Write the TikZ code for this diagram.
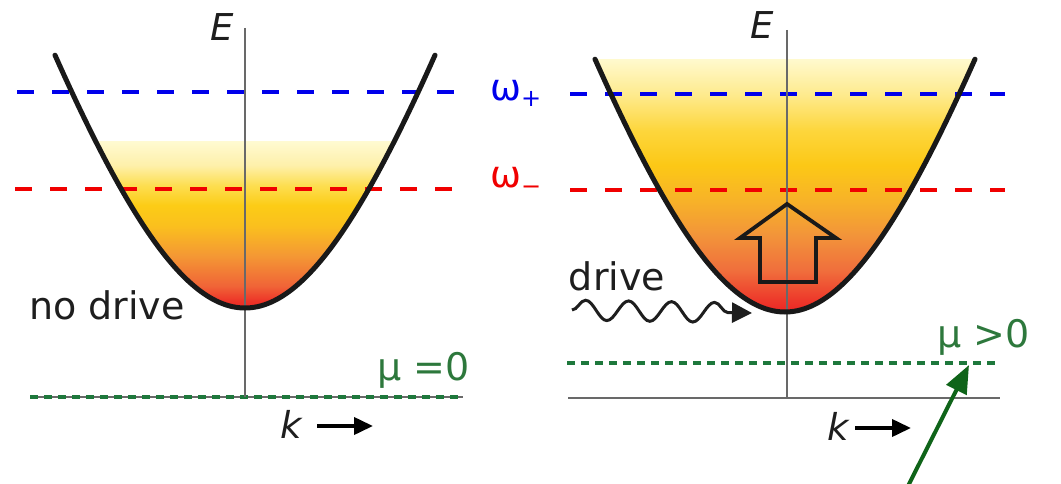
\documentclass[tikz,border=0pt]{standalone}
\usepackage{fontspec}
\setmainfont{DejaVu Sans}[ItalicFont={DejaVu Sans Oblique}]
\usetikzlibrary{arrows.meta,decorations.pathmorphing}
\definecolor{lineblue}{RGB}{0,0,235}
\definecolor{linered}{RGB}{240,0,0}
\definecolor{dotgreen}{RGB}{30,120,60}
\definecolor{textgreen}{RGB}{45,120,60}
\definecolor{arrowgreen}{RGB}{15,100,25}
\definecolor{axisgray}{RGB}{105,105,105}
\definecolor{txtdark}{RGB}{30,30,30}
% left gradient stops
\definecolor{lrA}{RGB}{236,36,36}
\definecolor{lrB}{RGB}{237,52,40}
\definecolor{lrC}{RGB}{240,100,55}
\definecolor{lrD}{RGB}{244,152,52}
\definecolor{lrE}{RGB}{250,192,30}
\definecolor{lrF}{RGB}{252,204,22}
\definecolor{lrG}{RGB}{253,222,80}
\definecolor{lrH}{RGB}{254,240,170}
\definecolor{lrI}{RGB}{255,250,208}
% right gradient stops
\definecolor{rrA}{RGB}{236,36,36}
\definecolor{rrB}{RGB}{237,55,42}
\definecolor{rrC}{RGB}{240,110,60}
\definecolor{rrD}{RGB}{242,148,58}
\definecolor{rrE}{RGB}{247,178,40}
\definecolor{rrF}{RGB}{252,200,22}
\definecolor{rrG}{RGB}{253,214,60}
\definecolor{rrH}{RGB}{254,234,140}
\definecolor{rrI}{RGB}{255,250,208}
\pgfdeclareverticalshading{leftgrad}{100bp}{color(0bp)=(lrA); color(25bp)=(lrA); color(27.4bp)=(lrB); color(31.9bp)=(lrC); color(41bp)=(lrD); color(50bp)=(lrE); color(56bp)=(lrF); color(62bp)=(lrG); color(68bp)=(lrH); color(75bp)=(lrI); color(100bp)=(lrI)}
\pgfdeclareverticalshading{rightgrad}{100bp}{color(0bp)=(rrA); color(25bp)=(rrA); color(27.4bp)=(rrB); color(33.3bp)=(rrC); color(40.2bp)=(rrD); color(47bp)=(rrE); color(54bp)=(rrF); color(60.8bp)=(rrG); color(67.7bp)=(rrH); color(75bp)=(rrI); color(100bp)=(rrI)}
\newcommand\bandcurve[2]{plot[smooth,samples=61,domain=-190:190] ({#1+\x},{#2-557*(sqrt(1+(\x/180)^2)-1)})}
\tikzset{
  bandline/.style={line width=5pt, draw=black!90, line cap=round},
  axisline/.style={line width=1.7pt, draw=axisgray},
  bluedash/.style={line width=3.8pt, draw=lineblue, dash pattern=on 17pt off 18pt},
  reddash/.style={line width=3.8pt, draw=linered, dash pattern=on 17pt off 18pt},
  greendot/.style={line width=3.8pt, draw=dotgreen, dash pattern=on 8pt off 6pt},
  bigtext/.style={font=\fontsize{38}{44}\selectfont, text=txtdark, inner sep=0pt},
  axislabel/.style={font=\fontsize{37}{44}\selectfont\itshape, text=txtdark, inner sep=0pt},
  mutext/.style={font=\fontsize{38}{44}\selectfont, text=textgreen, inner sep=0pt},
  karrow/.style={line width=3.8pt, -{Triangle[length=19pt,width=17pt]}},
  blockarrow/.style={line width=3.8pt, draw=black!90, line join=miter},
}
\begin{document}
\begin{tikzpicture}[x=1pt,y=-1pt]
\useasboundingbox (0,0) rectangle (1061,484);
% ---------- left panel ----------
\begin{scope}
  \clip \bandcurve{245}{308} -- cycle;
  \shade[shading=leftgrad] (40,142) rectangle (450,309);
\end{scope}
\draw[axisline] (30,397) -- (463,397);
\draw[greendot] (30,397) -- (463,397);
\draw[bluedash] (17,92) -- (455,92);
\draw[reddash] (15,189) -- (455,189);
\draw[axisline] (245,28) -- (245,397);
\draw[bandline] \bandcurve{245}{308};
\node[axislabel] (EL) at (222,27) {E};
\node[bigtext] (nodrive) at (107,305) {no drive};
\node[mutext, anchor=west] (mu0) at (377,370) {μ =0};
\node[axislabel, anchor=base] (kL) at (291,438) {k};
\coordinate (kLa) at (317,426);
\coordinate (kLb) at (373,426);
\draw[karrow] (kLa) -- (kLb);
% omega labels
\node[inner sep=0pt, anchor=base west, text=lineblue] (wplus) at (490,101)
  {\fontsize{37}{42}\selectfont ω\raisebox{-6pt}{\fontsize{24}{28}\selectfont +}};
\node[inner sep=0pt, anchor=base west, text=linered] (wminus) at (490,188)
  {\fontsize{37}{42}\selectfont ω\raisebox{-6pt}{\fontsize{24}{28}\selectfont −}};
% ---------- right panel ----------
\begin{scope}
  \clip \bandcurve{785}{312} -- cycle;
  \shade[shading=rightgrad] (585,58) rectangle (985,313);
\end{scope}
\draw[bluedash] (570,94) -- (1005,94);
\draw[reddash] (570,190) -- (1005,190);
\draw[greendot] (567,363) -- (1000,363);
\draw[axisline] (568,398) -- (1000,398);
\draw[axisline] (787,30) -- (787,398);
\draw[bandline] \bandcurve{785}{312};
\draw[blockarrow] (787,204) -- (836,238) -- (816,238) -- (816,282) -- (760,282) -- (760,238) -- (740,238) -- cycle;
\node[axislabel] (ER) at (762,25) {E};
\node[bigtext] (drive) at (617,276) {drive};
\node[mutext, anchor=west] (mupos) at (937,337) {μ >0};
\node[axislabel, anchor=base] (kR) at (838,440) {k};
\coordinate (kRa) at (855,428);
\coordinate (kRb) at (911,428);
\draw[karrow] (kRa) -- (kRb);
\coordinate (wavestart) at (572,310);
\coordinate (waveend) at (752,313);
\draw[line width=3pt, draw=txtdark, decorate,
      decoration={snake, amplitude=10pt, segment length=43pt, post length=22pt},
      -{Triangle[length=20pt,width=20pt]}] (wavestart) -- (waveend);
\coordinate (gstart) at (906,490);
\coordinate (gend) at (969,365);
\draw[line width=4pt, draw=arrowgreen, fill=arrowgreen,
      -{Triangle[length=28pt,width=22pt]}] (gstart) -- (gend);
\end{tikzpicture}
\end{document}
